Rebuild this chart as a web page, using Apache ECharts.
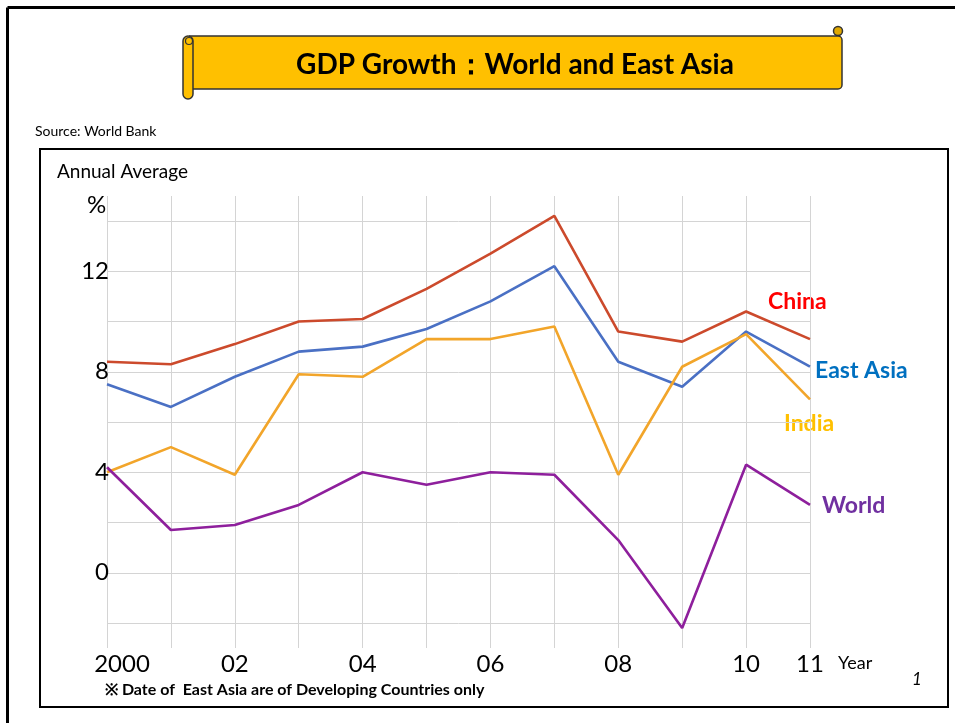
<!DOCTYPE html>
<html>
<head>
<meta charset="utf-8">
<script src="https://cdn.jsdelivr.net/npm/echarts@6/dist/echarts.min.js"></script>
<style>
  html, body { margin: 0; padding: 0; background: #fff; }
  #chart { width: 955px; height: 723px; }
</style>
</head>
<body>
<div id="chart"></div>
<script>
// data (annual GDP growth, %)
const years = ['2000', '01', '02', '03', '04', '05', '06', '07', '08', '09', '10', '11'];
const shownYears = ['2000', '02', '04', '06', '08', '10', '11'];
const china = [8.4, 8.3, 9.1, 10.0, 10.1, 11.3, 12.7, 14.2, 9.6, 9.2, 10.4, 9.3];
const eastAsia = [7.5, 6.6, 7.8, 8.8, 9.0, 9.7, 10.8, 12.2, 8.4, 7.4, 9.6, 8.2];
const india = [4.0, 5.0, 3.9, 7.9, 7.8, 9.3, 9.3, 9.8, 3.9, 8.2, 9.5, 6.9];
const world = [4.2, 1.7, 1.9, 2.7, 4.0, 3.5, 4.0, 3.9, 1.3, -2.2, 4.3, 2.7];
const yTickLabels = [0, 4, 8, 12];

const font = 'Lato, "Open Sans", sans-serif';
const chart = echarts.init(document.getElementById('chart'));

const lineSeries = (name, data, color) => ({
  name: name,
  type: 'line',
  xAxisIndex: 1,
  yAxisIndex: 1,
  data: data,
  symbol: 'none',
  clip: false,
  lineStyle: { color: color, width: 2.6 },
  z: 5
});

const option = {
  animation: false,
  backgroundColor: '#fff',
  grid: [
    // grid for the vertical lines (runs a little past the horizontal ones)
    { left: 107, right: 145, top: 196, bottom: 75 },
    // grid for the data and horizontal lines
    { left: 107, right: 145, top: 221, bottom: 100 }
  ],
  xAxis: [
    {
      type: 'category',
      gridIndex: 0,
      data: years,
      boundaryGap: false,
      axisLine: { show: false },
      axisTick: { show: false },
      splitLine: { show: true, lineStyle: { color: '#d4d4d4', width: 1 } },
      axisLabel: {
        interval: 0,
        margin: 4,
        color: '#000',
        fontFamily: font,
        fontSize: 24,
        formatter: (v) => {
          if (!shownYears.includes(v)) return '';
          return v === '2000' ? '{first|' + v + '}' : v;
        },
        rich: {
          first: { fontFamily: font, fontSize: 24, color: '#000', padding: [0, 0, 0, 30] }
        }
      }
    },
    {
      type: 'category',
      gridIndex: 1,
      data: years,
      boundaryGap: false,
      show: false
    }
  ],
  yAxis: [
    { type: 'value', gridIndex: 0, min: 0, max: 1, show: false },
    {
      type: 'value',
      gridIndex: 1,
      min: -2,
      max: 14,
      interval: 2,
      axisLine: { show: false },
      axisTick: { show: false },
      splitLine: { show: true, lineStyle: { color: '#d4d4d4', width: 1 } },
      axisLabel: {
        margin: -2,
        color: '#000',
        fontFamily: font,
        fontSize: 24,
        formatter: (v) => (yTickLabels.includes(v) ? String(v) : '')
      }
    }
  ],
  series: [
    lineSeries('China', china, '#cc4a2c'),
    lineSeries('East Asia', eastAsia, '#4a70c4'),
    lineSeries('India', india, '#f2a52a'),
    lineSeries('World', world, '#8e1f9c')
  ],
  graphic: [
    // slide frame
    { type: 'line', shape: { x1: 7.5, y1: 7.5, x2: 955, y2: 7.5 }, style: { stroke: '#000', lineWidth: 3 } },
    { type: 'line', shape: { x1: 7.5, y1: 7.5, x2: 7.5, y2: 723 }, style: { stroke: '#000', lineWidth: 3 } },
    // chart box
    { type: 'rect', shape: { x: 40, y: 149, width: 908, height: 558 }, style: { fill: 'none', stroke: '#000', lineWidth: 2 }, z: 1 },
    // title scroll
    { type: 'rect', shape: { x: 189, y: 36, width: 653, height: 53, r: [0, 4, 4, 0] }, style: { fill: '#ffc000', stroke: '#333', lineWidth: 1.5 }, z: 10 },
    { type: 'circle', shape: { cx: 838, cy: 31, r: 4.5 }, style: { fill: '#e0a800', stroke: '#333', lineWidth: 1.5 }, z: 9 },
    { type: 'rect', shape: { x: 183, y: 36, width: 10, height: 63, r: 5 }, style: { fill: '#ffc000', stroke: '#333', lineWidth: 1.5 }, z: 11 },
    { type: 'circle', shape: { cx: 189, cy: 41, r: 3.5 }, style: { fill: '#ffc000', stroke: '#333', lineWidth: 1.2 }, z: 12 },
    {
      type: 'text', x: 515, y: 65, z: 13,
      style: { text: 'GDP Growth：World and East Asia', fill: '#000', font: 'bold 28px ' + font, align: 'center', verticalAlign: 'middle' }
    },
    { type: 'text', left: 35, top: 124, style: { text: 'Source: World Bank', fill: '#000', font: '14px ' + font } },
    { type: 'text', left: 57, top: 162, style: { text: 'Annual Average', fill: '#000', font: '19px ' + font } },
    { type: 'text', left: 87, top: 193, style: { text: '%', fill: '#000', font: '24px ' + font } },
    { type: 'text', left: 838, top: 654, style: { text: 'Year', fill: '#000', font: '18px ' + font } },
    { type: 'text', left: 912, top: 671, style: { text: '1', fill: '#000', font: 'italic 17px ' + font } },
    { type: 'text', left: 105, top: 682, style: { text: '※ Date of  East Asia are of Developing Countries only', fill: '#000', font: 'bold 16px ' + font } },
    // series names
    { type: 'text', left: 768, top: 290, style: { text: 'China', fill: '#ff0000', font: 'bold 23px ' + font } },
    { type: 'text', left: 815, top: 359, style: { text: 'East Asia', fill: '#0070c0', font: 'bold 23px ' + font } },
    { type: 'text', left: 784, top: 412, style: { text: 'India', fill: '#ffc000', font: 'bold 23px ' + font } },
    { type: 'text', left: 822, top: 494, style: { text: 'World', fill: '#7030a0', font: 'bold 23px ' + font } }
  ]
};

chart.setOption(option);
</script>
</body>
</html>
